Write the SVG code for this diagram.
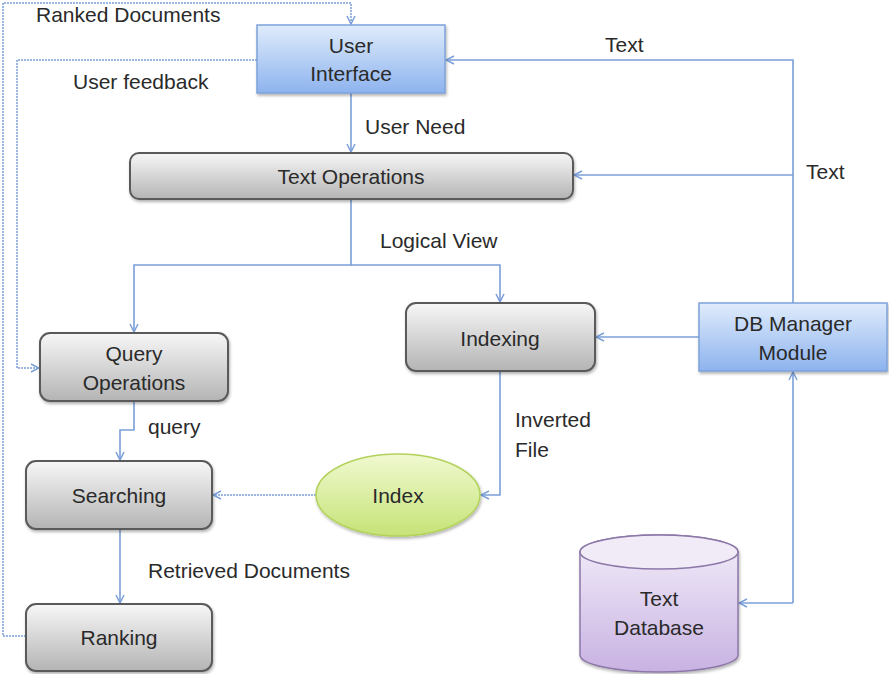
<svg xmlns="http://www.w3.org/2000/svg" width="889" height="674" viewBox="0 0 889 674">
<defs>
<linearGradient id="gGrey" x1="0" y1="0" x2="0" y2="1"><stop offset="0" stop-color="#f7f7f7"/><stop offset="1" stop-color="#b4b4b4"/></linearGradient>
<linearGradient id="gBlue" x1="0" y1="0" x2="0" y2="1"><stop offset="0" stop-color="#e0ecfc"/><stop offset="1" stop-color="#8db3ee"/></linearGradient>
<linearGradient id="gGreen" x1="0" y1="0" x2="0" y2="1"><stop offset="0" stop-color="#f0f9d0"/><stop offset="1" stop-color="#c6e377"/></linearGradient>
<linearGradient id="gPurple" x1="0" y1="0" x2="0" y2="1"><stop offset="0" stop-color="#f3eefa"/><stop offset="1" stop-color="#c8b2e2"/></linearGradient>
<filter id="sh" x="-10%" y="-10%" width="120%" height="130%"><feDropShadow dx="1" dy="2" stdDeviation="1.5" flood-color="#000" flood-opacity="0.3"/></filter>
<marker id="arr" viewBox="0 0 10 10" refX="9" refY="5" markerWidth="10" markerHeight="10" markerUnits="userSpaceOnUse" orient="auto-start-reverse"><path d="M1,1 L9,5 L1,9" fill="none" stroke="#7a9fd8" stroke-width="1.5"/></marker>
</defs>
<style>
text{font-family:"Liberation Sans",Arial,sans-serif;font-size:21px;fill:#2a2a2a}
.c{text-anchor:middle;dominant-baseline:central}
.grey{fill:url(#gGrey);stroke:#5a5a5a;stroke-width:2;filter:url(#sh)}
.blue{fill:url(#gBlue);stroke:#7ea2da;stroke-width:1.5;filter:url(#sh)}
.ln{fill:none;stroke:#7a9fd8;stroke-width:1.6;marker-end:url(#arr)}
.dot{fill:none;stroke:#7a9fd8;stroke-width:1.5;stroke-dasharray:2 1;marker-end:url(#arr)}
</style>
<rect width="889" height="674" fill="#fff"/>
<g id="connectors">
<path class="dot" d="M26,636 H3 V3 H351 V24"/>
<path class="dot" d="M257,60 H17 V368 H39"/>
<path class="ln" d="M351,93 V152"/>
<path class="ln" d="M351,199 V265 H134 V332"/>
<path class="ln" d="M351,265 H500 V302"/>
<path class="ln" d="M793,303 V60 H446"/>
<path class="ln" d="M793,175 H574"/>
<path class="ln" d="M699,337 H596"/>
<path class="ln" d="M500,371 V495 H481"/>
<path class="ln" d="M134,401 V430 H120 V460"/>
<path class="dot" d="M316,495 H213"/>
<path class="ln" d="M120,529 V603"/>
<path class="ln" d="M793,603 H739"/>
<path class="ln" d="M793,603 V372"/>
<text x="36" y="22">Ranked Documents</text>
<text x="73" y="89">User feedback</text>
<text x="365" y="134">User Need</text>
<text x="380" y="248">Logical View</text>
<text x="605" y="52">Text</text>
<text x="806" y="179">Text</text>
<text x="515" y="427">Inverted</text>
<text x="515" y="457">File</text>
<text x="148" y="434">query</text>
<text x="148" y="578">Retrieved Documents</text>
</g>
<g id="user-interface"><rect class="blue" x="257" y="25" width="188" height="68"/><text class="c" x="351" y="45">User</text><text class="c" x="351" y="73">Interface</text></g>
<g id="text-operations"><rect class="grey" x="130" y="153" width="443" height="46" rx="9"/><text class="c" x="351" y="176">Text Operations</text></g>
<g id="query-operations"><rect class="grey" x="40" y="333" width="188" height="68" rx="10"/><text class="c" x="134" y="353">Query</text><text class="c" x="134" y="382">Operations</text></g>
<g id="indexing"><rect class="grey" x="406" y="303" width="189" height="68" rx="10"/><text class="c" x="500" y="338">Indexing</text></g>
<g id="db-manager"><rect class="blue" x="699" y="303" width="188" height="68"/><text class="c" x="793" y="323">DB Manager</text><text class="c" x="793" y="352">Module</text></g>
<g id="searching"><rect class="grey" x="26" y="461" width="186" height="68" rx="10"/><text class="c" x="119" y="495">Searching</text></g>
<g id="ranking"><rect class="grey" x="26" y="604" width="186" height="67" rx="10"/><text class="c" x="119" y="637">Ranking</text></g>
<g id="index"><ellipse cx="398" cy="495" rx="82" ry="41" fill="url(#gGreen)" stroke="#b3d25c" stroke-width="1.5" filter="url(#sh)"/><text class="c" x="398" y="495">Index</text></g>
<g id="text-database"><path d="M580,552 V655 A79,17 0 0 0 738,655 V552 A79,17 0 0 0 580,552 Z" fill="url(#gPurple)" stroke="#8c78a8" stroke-width="1.5" filter="url(#sh)"/><ellipse cx="659" cy="552" rx="79" ry="17" fill="#f1ebf8" stroke="#8c78a8" stroke-width="1.5"/><text class="c" x="659" y="598">Text</text><text class="c" x="659" y="627">Database</text></g>
</svg>
